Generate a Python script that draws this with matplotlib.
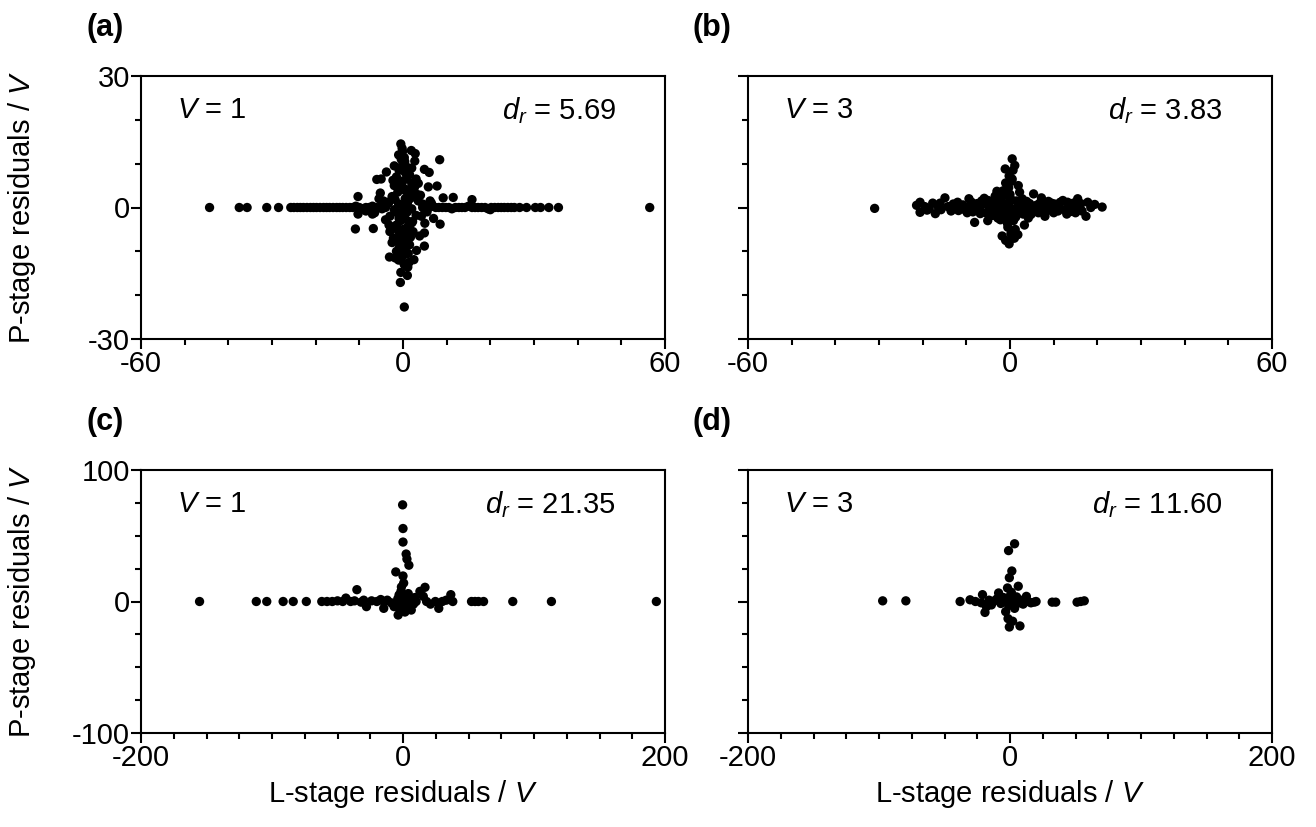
import matplotlib
matplotlib.use('Agg')
import matplotlib.pyplot as plt
from matplotlib.ticker import MultipleLocator

plt.rcParams['font.family'] = ['Liberation Sans', 'DejaVu Sans']
plt.rcParams['mathtext.fontset'] = 'custom'
plt.rcParams['mathtext.rm'] = 'Liberation Sans'
plt.rcParams['mathtext.it'] = 'Liberation Sans:italic'
plt.rcParams['axes.unicode_minus'] = False
plt.rcParams['font.size'] = 21

# ── data ───────────────────────────────────────────────────────────────────────
# (a) V = 1, first data set
a_x = [-44.3, -37.5, -35.7, -31.2, -28.5, -25.7, -25.0, -24.2, -23.5, -22.8, -22.0, -21.2,
       -20.5, -19.8, -19.0, -18.2, -17.5, -16.8, -16.0, -15.2, -14.5, -13.8, -13.0, -12.2,
       -11.5, -10.8, -10.0, -9.2, -8.5, -7.8, -7.0, -6.2, -5.5, -4.8, -4.0, 4.5, 5.2, 6.0,
       6.8, 7.5, 8.2, 9.0, 9.8, 10.5, 11.2, 12.0, 12.8, 13.5, 14.2, 15.0, 15.8, 16.5, 17.2,
       18.0, 18.8, 19.5, 20.2, 21.0, 21.8, 22.5, 23.2, 24.0, 24.8, 25.5, 26.7, 28.3, 30.3,
       31.5, 33.4, 35.6, 56.5,
       -0.5, 1.9, 0.3, 2.7, 8.4, 4.9, -3.8, -6.0, -5.0, 5.8, 7.8, -10.3, -5.2, 9.2, 11.5,
       15.8, -10.9, -6.8, -10.3, -3.2, 4.9, 5.0, 4.9, 3.1, 2.5, -3.1, 0.3, -0.5, -0.6, 0.3,
       1.1, 20.0,
       -1.0, 0.0, -0.8, 0.5, 1.5, -1.5, 0.8, -0.3, 2.0, -2.0, 0.0, 1.2, -1.2, 2.5, -2.5, 0.5,
       3.5, -3.5, 1.0, -1.0, 0.0, 2.0, -2.0, 1.0, -1.0, 3.0, -3.0, 0.5, -0.5, 2.0, -1.5, 1.0,
       0.0, -1.0, 1.5, -0.5, 0.8, -1.2, 0.2, 1.5, -0.8, 0.5, -1.5, 1.2, 0.0, -1.0, 3.5, 4.0,
       -4.5, 6.5, -6.5, 7.0, 5.5, -4.0, 3.8, 2.0, -2.5, 6.0, -8.5, 8.5, 2.8, -0.2, 1.0, -1.8,
       -0.4, 0.6, -0.9, 0.9, -0.2, 0.4, 1.8, -1.8, 0.1, -0.6, 1.3, -1.3, 0.7, -0.7, 2.3, -2.3,
       0.2, -0.2, 1.6, -1.6, 0.9, -0.9, 0.3, 2.6, -2.8, 3.2, -3.3, 4.2, -4.2, 5.0, -5.5, 6.2,
       -7.0, 3.0, -3.0, 4.5, -2.0, 1.0, 0.4, -0.4, 1.7, -1.1, 0.6, 2.2, -2.2, 1.4, -0.1, 0.8]
a_y = [0.0, 0.0, 0.0, 0.0, 0.0, 0.0, 0.0, 0.0, 0.0, 0.0, 0.0, 0.0,
       0.0, 0.0, 0.0, 0.0, 0.0, 0.0, 0.0, 0.0, 0.0, 0.0, 0.0, 0.0,
       0.0, 0.3, 0.0, -0.3, 0.0, 0.0, 0.3, 0.0, 0.0, -0.3, 0.0, 0.0, 0.0, 0.0,
       0.3, 0.0, 0.0, 0.0, 0.0, 0.0, -0.3, 0.0, 0.0, 0.0, 0.0, 0.3, 0.0, 0.0, 0.0,
       0.0, 0.0, -0.3, 0.0, 0.0, 0.0, 0.0, 0.0, 0.0, 0.0, 0.0, 0.0, 0.0, 0.0,
       0.0, 0.0, 0.0, 0.0,
       14.5, 13.0, 11.4, 10.6, 10.9, 8.7, 8.1, 6.4, 6.5, 4.7, 4.9, 2.5, 3.3, 2.2, 2.3,
       1.8, -4.9, -4.8, -1.5, -4.0, -5.8, -3.6, -8.8, -9.8, -11.9, -11.3, -12.9, -14.8, -17.1, -22.7,
       -13.6, -0.5,
       12.0, 10.0, 9.0, 8.0, 7.5, 7.0, 6.5, 6.0, 5.5, 5.0, 4.5, 4.0, 3.5, 3.0, 2.5, 2.0,
       1.5, 1.2, 1.0, 0.8, 0.3, -0.3, -0.5, -1.0, -1.5, -1.8, -2.0, -2.5, -3.0, -3.5, -4.0, -4.5,
       -5.0, -5.5, -6.0, -6.5, -7.0, -7.5, -8.0, -8.5, -9.0, -9.5, -10.0, -10.5, -11.0, -12.0, 5.5, 2.8,
       1.5, 1.0, -1.2, -2.5, -1.0, -2.8, -6.5, 9.0, -8.0, 8.0, -0.8, -3.8, 12.3, 13.5, -15.5, -11.5,
       11.0, 9.5, 8.5, 7.0, 5.8, 4.2, 3.5, 1.8, -0.8, -2.2, -3.2, -4.8, -6.2, -7.8, -5.5, 6.2,
       -9.8, -10.8, 2.0, -1.0, 1.0, -2.5, -13.0, 4.5, -4.5, 3.0, 1.0, -2.0, 0.5, -0.5, 2.0, 1.5,
       -1.5, 6.5, -5.5, 0.8, 9.5, -8.5, 10.5, -11.5, -6.8, 5.0, 3.8, -3.2, -7.0, -12.5, 12.8, 0.0]

# (b) V = 3, first data set
b_x = [-31.0, -21.4, -20.6, -20.6, -19.5, -18.5, -17.7, -17.1, -16.5, -15.8, -14.9, -14.2,
       -13.5, -13.0, -12.0, -11.8, -11.0, -10.2, -9.4, -9.0, -8.5, -8.1, -7.5, -7.0, -6.5,
       -5.9, -5.5, -5.1, -4.5, -4.0, -3.5, -3.0, -2.5, -2.0, -1.5, -1.0, -1.0, -0.5, -0.5,
       0.0, 0.0, 0.2, -0.2, 0.5, 0.7, 1.1, -1.1, 1.9, 0.5, -0.3, 0.8, 0.6, -1.8, 1.0, 1.5,
       2.0, 2.5, 3.0, 3.3, 3.5, 4.0, 4.5, 5.0, 5.4, 6.0, 6.5, 7.2, 7.5, 8.0, 8.5, 9.0, 9.5,
       10.0, 10.5, 11.0, 11.5, 12.1, 12.5, 13.0, 13.5, 14.0, 14.5, 15.0, 15.5, 16.0, 16.5,
       17.4, 17.8, 18.5, 19.4, 21.1, -2.2, 2.2, -3.8, 1.3, -1.3,
       -19.0, -16.0, -13.0, -10.8, -9.8, -8.8, -7.8, -6.8, -6.0, -5.0, -4.2, -3.2, -2.8, -2.0,
       -1.4, -0.8, -0.2, 0.3, 0.9, 1.6, 2.6, 3.8, 4.8, 5.8, 6.8, 7.8, 8.8, 10.2, 11.2, 13.2,
       14.8, 16.2, -1.6, -0.6, 0.4, 1.2, -2.6, 2.8, -4.8, 4.2, -0.2, 0.6, -1.0, 1.8, -3.4, 0.0]
b_y = [-0.2, 0.5, 1.2, -1.1, 0.2, -0.3, 1.0, -1.4, 0.3, -0.5, 2.2, 0.2,
       -0.8, 0.8, 1.2, -0.7, 0.3, -0.6, 2.0, 0.6, -1.0, -3.4, 0.9, -0.4, 1.5,
       2.1, -1.2, -3.0, 0.5, -1.8, 1.8, 3.7, -0.5, 2.5, -2.0, 5.6, -7.5, 1.0, -4.5,
       -1.0, 3.0, -6.0, -8.3, 11.1, 8.5, 9.6, 8.8, 5.0, 6.5, 4.5, -3.0, -5.5, -6.5, -7.0, 1.5,
       -1.0, 0.8, -1.5, -4.0, 1.0, -0.3, 0.9, -0.8, 3.1, 0.5, -1.2, 2.2, -0.3, -2.0, 0.8, -0.6, 1.0,
       -1.2, 0.3, -0.8, 1.2, 1.6, -0.5, -1.5, 0.5, -0.9, 1.0, -1.2, 2.0, 0.2, -0.8,
       -2.0, 1.2, 0.0, 0.7, 0.1, -2.8, 3.5, 0.0, -2.2, 0.2,
       -0.6, 1.0, -0.2, 0.6, -1.2, 1.2, 0.2, -1.4, 0.8, 1.6, -1.0, 0.4, -2.4, 1.4,
       -0.4, 2.8, -2.6, 1.8, -1.6, 0.0, -0.6, 1.4, -1.6, -0.8, 1.0, 0.4, 1.4, 0.8, 0.2, 1.2,
       -0.4, 0.9, 3.8, -3.6, 6.0, -5.0, -1.0, 2.0, 0.2, -2.4, 7.2, -7.0, 4.0, -6.2, 2.6, 0.0]

# (c) V = 1, second data set
c_x = [-155.3, -112, -104, -91.5, -83.8, -73.8, -62, -58, -54, -50, -46, -43.6, -40, -37,
       -35.2, -32, -30, -27.9, -24, -20, -17, -14.7, -14.7, -12, -9, -6.8, -5.5, -4, -3.7,
       -3, -2, -1.5, -1, -0.3, 0, 0, 2.4, 3, 4.5, 0, -1.2, 0.5, 1.0, 1.5, 2.0, 3.0, 4.0, 5.0,
       6.3, 5.5, 7.0, 8.0, 9.0, 10.0, 12.9, 15.5, 16.8, 18, 21, 24.7, 27.3, 30, 33, 36.5, 38,
       52.3, 55, 57.6, 61.5, 83.8, 113.3, 193.4, 1.5, -2.5]
c_y = [0, 0, 0, 0, 0, 0, 0, 0, 0, 0.5, 0, 2.6, 0, 0.5,
       9.0, -0.5, 1.0, -3.9, 0.5, 0, 1.5, 0, -5.2, 1.0, -1.0, -3.9, 22.5, 2.0, -10.3,
       5.0, -2.0, 8.0, 0.5, 73.5, 55.5, 45.2, 36.1, 32.3, 27.6, 19.4, 11.1, 14.0, 4.0, -3.0, 1.0, -1.0, 6.0, 2.0,
       -6.5, -3.5, 1.5, -2.0, 3.0, 0, 7.7, 3.9, 10.8, 0, -2.0, 0, -5.2, 0, 1.0, 5.2, 0,
       0, 0, 0, 0, 0, 0, 0, -8.0, -6.0]

# (d) V = 3, second data set
d_x = [-97.2, -79.5, -38.1, -30.5, -26.4, -22, -21, -19.1, -18, -16, -14.2, -12, -10, -8.7,
       -7, -5, -4, -3.3, -2, -1.9, -1, -0.5, 0, 0.5, 1.0, 1.4, -1.1, 3.5, 2, 3, 3.5, 4, 5,
       6.3, 7, 8, 10, 12.5, 14, 16, 18.5, 19.9, -0.5, 7.6, 2, -1.5, 32.2, 34.9, 51.2, 54, 56.7]
d_y = [0.5, 0.5, 0, 1.3, 0, -1, 5.2, -8.3, -4, 1.0, -2.6, 0.5, 2.0, 6.5,
       -1.5, 3.0, 0, -7.7, 1.5, 10.3, -3, 18.1, 4.0, -1.0, 7.0, 23.2, 38.7, 43.9, -2.0, 2.0, -5.2, 0, 3.5,
       11.6, -1.0, 1.0, -2.0, 3.9, 0, -1, -0.5, 0, -19.4, -18.6, -15, -13, -0.5, -0.5, -0.5, 0, 0.5]

panels = ['(a)', '(b)', '(c)', '(d)']
v_labels = ['$V$ = 1', '$V$ = 3', '$V$ = 1', '$V$ = 3']
dr_labels = ['$d_r$ = 5.69', '$d_r$ = 3.83', '$d_r$ = 21.35', '$d_r$ = 11.60']
xs = [a_x, b_x, c_x, d_x]
ys = [a_y, b_y, c_y, d_y]
x_lims = [60, 60, 200, 200]
y_lims = [30, 30, 100, 100]
x_minor = [10, 10, 25, 25]
y_minor = [10, 10, 25, 25]

# ── figure ────────────────────────────────────────────────────────────────────
fig = plt.figure(figsize=(13.16, 8.27), dpi=100)
W, H = 1316, 827
boxes = [(141, 76), (748, 76), (141, 470), (748, 470)]  # left, top in px
aw, ah = 524, 263

for i in range(4):
    l, t = boxes[i]
    ax = fig.add_axes([l / W, 1 - (t + ah) / H, aw / W, ah / H])
    ax.scatter(xs[i], ys[i], s=45, color='black', edgecolors='none', zorder=3)
    ax.set_xlim(-x_lims[i], x_lims[i])
    ax.set_ylim(-y_lims[i], y_lims[i])
    ax.set_xticks([-x_lims[i], 0, x_lims[i]])
    ax.set_yticks([-y_lims[i], 0, y_lims[i]])
    ax.xaxis.set_minor_locator(MultipleLocator(x_minor[i]))
    ax.yaxis.set_minor_locator(MultipleLocator(y_minor[i]))
    ax.tick_params(which='major', direction='out', length=7, width=1.5, labelsize=21, pad=1)
    ax.tick_params(which='minor', direction='out', length=4, width=1.5)
    for sp in ax.spines.values():
        sp.set_linewidth(1.5)
    if i % 2 == 1:
        ax.set_yticklabels([])
    ax.text(0.069, 0.87, v_labels[i], transform=ax.transAxes, fontsize=21,
            ha='left', va='center')
    ax.text(0.906, 0.87, dr_labels[i], transform=ax.transAxes, fontsize=21,
            ha='right', va='center')
    if i >= 2:
        ax.set_xlabel('L-stage residuals / $V$', fontsize=21, labelpad=4)
    fig.text((l - 36) / W, 1 - (t - 48) / H, panels[i], fontsize=22,
             fontweight='bold', ha='center', va='center')

for t in [76, 470]:
    fig.text(22 / W, 1 - (t + ah / 2) / H, 'P-stage residuals / $V$', fontsize=21,
             rotation=90, ha='center', va='center')

plt.savefig('out.png', dpi=100)
plt.close()
